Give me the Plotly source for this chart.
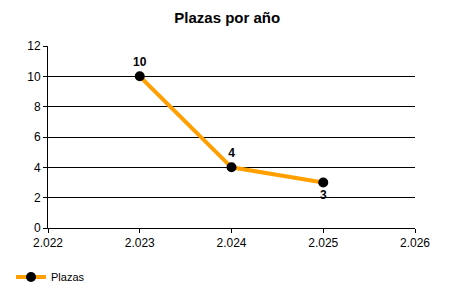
import plotly.graph_objects as go

years = [2023, 2024, 2025]
plazas = [10, 4, 3]
label_pos = ["top center", "top center", "bottom center"]
x_ticks = [2022, 2023, 2024, 2025, 2026]
y_ticks = [0, 2, 4, 6, 8, 10, 12]

fig = go.Figure()
fig.add_trace(go.Scatter(
    x=years, y=plazas, name="Plazas",
    mode="lines+markers+text",
    line=dict(color="#FFA000", width=4),
    marker=dict(color="black", size=10),
    text=[str(v) for v in plazas],
    textposition=label_pos,
    textfont=dict(family="Liberation Sans", size=12, color="black", weight="bold"),
    cliponaxis=False,
))

fig.update_layout(
    width=450, height=300,
    margin=dict(l=48, r=35, t=46, b=72),
    paper_bgcolor="white", plot_bgcolor="white",
    separators=",.",
    font=dict(family="Liberation Sans", size=12, color="black"),
    title=dict(text="<b>Plazas por año</b>", x=0.505, xanchor="center",
               y=1 - 18 / 300, yanchor="middle", font=dict(size=15, color="black")),
    showlegend=True,
    legend=dict(orientation="h", xref="container", yref="container",
                x=11 / 450, y=(300 - 277) / 300, xanchor="left", yanchor="middle",
                itemwidth=30, font=dict(size=11), bgcolor="rgba(0,0,0,0)"),
    xaxis=dict(range=[2022, 2026], tickvals=x_ticks, tickformat=",d",
               showgrid=False, zeroline=False, showline=True, linecolor="black",
               linewidth=1, ticks="outside", ticklen=4, tickcolor="black"),
    yaxis=dict(range=[0, 12], tickvals=y_ticks, showgrid=True, gridcolor="black",
               gridwidth=1, zeroline=False, showline=True, linecolor="black",
               linewidth=1, ticks="outside", ticklen=4, tickcolor="black"),
)

fig.write_html("out.html")
